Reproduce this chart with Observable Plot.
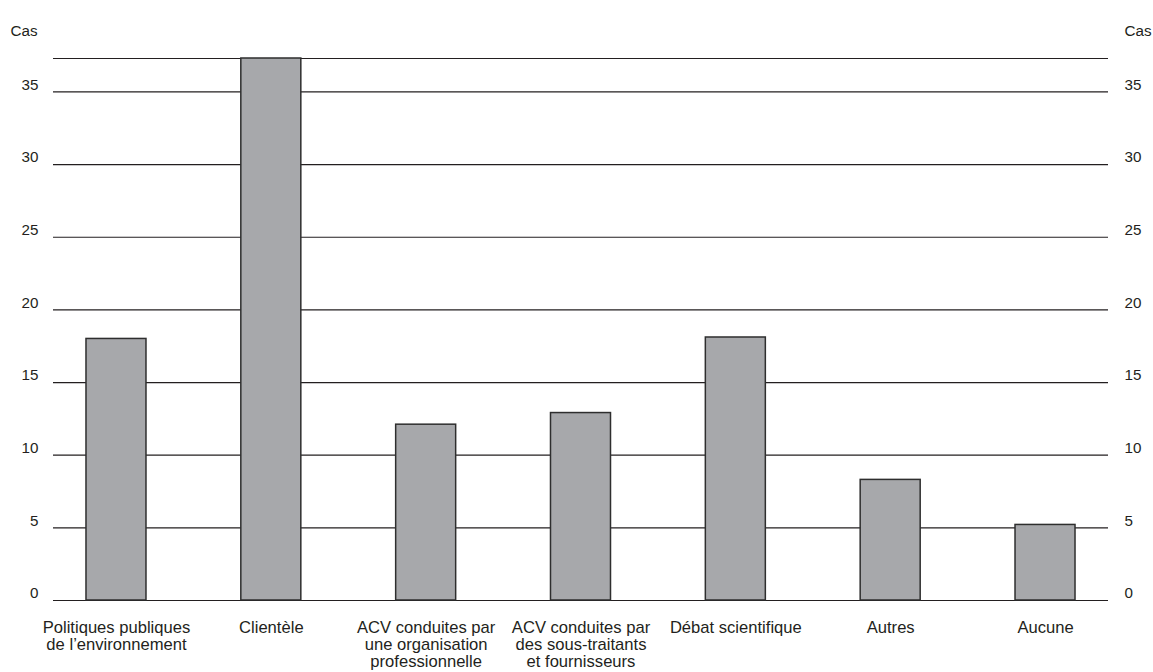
<!DOCTYPE html>
<html lang="fr">
<head>
<meta charset="utf-8">
<script src="https://cdn.jsdelivr.net/npm/d3@7"></script>
<script src="https://cdn.jsdelivr.net/npm/@observablehq/plot@0.6"></script>
<style>
  html, body { margin: 0; padding: 0; background: #fff; }
  #chart svg { display: block; }
</style>
</head>
<body>
<div id="chart"></div>
<script>
// Facteurs ayant motivé la réalisation d'une ACV (nombre de cas)
const categories = [
  "Politiques publiques\nde l’environnement",
  "Clientèle",
  "ACV conduites par\nune organisation\nprofessionnelle",
  "ACV conduites par\ndes sous-traitants\net fournisseurs",
  "Débat scientifique",
  "Autres",
  "Aucune"
];
const cases = [18, 37.3, 12.1, 12.9, 18.1, 8.3, 5.2];
const yTicks = [0, 5, 10, 15, 20, 25, 30, 35];
const yMax = 37.3;

const data = categories.map((c, i) => ({category: c, value: cases[i]}));

const ink = "#231f20";
const font = "'Liberation Sans', Arial, sans-serif";
const tickStyle = {fontSize: 15.2, fill: ink};
const labelStyle = {fontSize: 16.6, fill: ink};

const chart = Plot.plot({
  width: 1153,
  height: 672,
  marginTop: 58,
  marginBottom: 72,
  marginLeft: 53,
  marginRight: 45,
  style: {fontFamily: font, color: ink, background: "#fff"},
  x: {domain: categories, paddingInner: 0.6125, paddingOuter: 0.213, round: false, axis: null},
  y: {domain: [0, yMax], axis: null},
  marks: [
    Plot.ruleY([...yTicks, yMax], {stroke: ink, strokeWidth: 1.2}),
    Plot.barY(data, {x: "category", y: "value", fill: "#a7a8ab", stroke: "#2e2e2e", strokeWidth: 1.5}),
    Plot.axisY(yTicks, {anchor: "left", tickSize: 0, tickPadding: 15, dy: -7, label: null, ...tickStyle}),
    Plot.axisY(yTicks, {anchor: "right", tickSize: 0, tickPadding: 16, dy: -7, label: null, ...tickStyle}),
    Plot.axisX({anchor: "bottom", tickSize: 0, tickPadding: 20, lineHeight: 1.03, label: null, ...labelStyle}),
    Plot.text(["Cas"], {frameAnchor: "top-left", dx: -43, dy: -33, textAnchor: "start", ...tickStyle}),
    Plot.text(["Cas"], {frameAnchor: "top-right", dx: 16, dy: -33, textAnchor: "start", ...tickStyle})
  ]
});

document.getElementById("chart").append(chart);
</script>
</body>
</html>
